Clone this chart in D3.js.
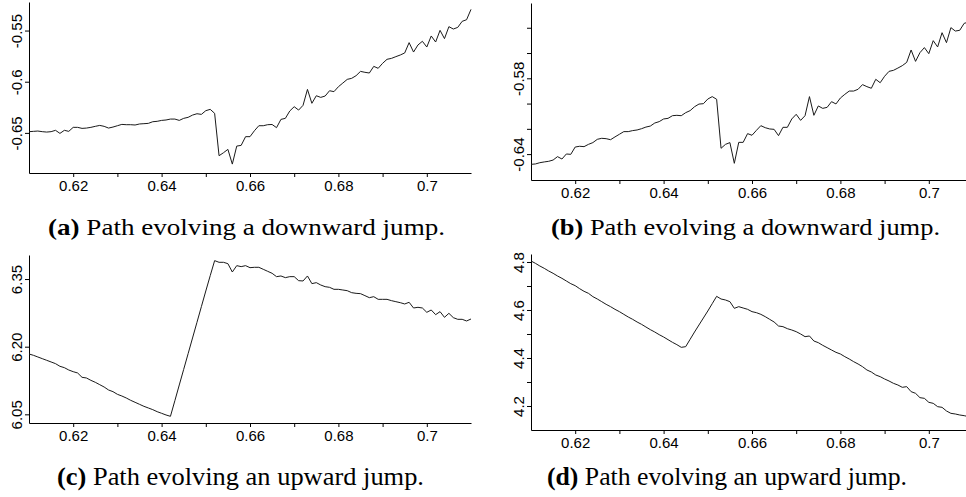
<!DOCTYPE html>
<html>
<head>
<meta charset="utf-8">
<script src="https://cdn.jsdelivr.net/npm/d3@7"></script>
<style>
  body { margin: 0; background: #fff; }
  svg { display: block; }
  .tick text { font-family: "Liberation Sans", Arial, sans-serif; font-size: 15px; fill: #000; }
  .caption { font-family: "Liberation Serif", "Times New Roman", serif; fill: #000; }
</style>
</head>
<body>
<div id="chart"></div>
<script>
// shared x grid (time)
var xValues = [0.610,0.611,0.612,0.613,0.614,0.615,0.616,0.617,0.618,0.619,
  0.620,0.621,0.622,0.623,0.624,0.625,0.626,0.627,0.628,0.629,
  0.630,0.631,0.632,0.633,0.634,0.635,0.636,0.637,0.638,0.639,
  0.640,0.641,0.642,0.643,0.644,0.645,0.646,0.647,0.648,0.649,
  0.650,0.651,0.652,0.653,0.654,0.655,0.656,0.657,0.658,0.659,
  0.660,0.661,0.662,0.663,0.664,0.665,0.666,0.667,0.668,0.669,
  0.670,0.671,0.672,0.673,0.674,0.675,0.676,0.677,0.678,0.679,
  0.680,0.681,0.682,0.683,0.684,0.685,0.686,0.687,0.688,0.689,
  0.690,0.691,0.692,0.693,0.694,0.695,0.696,0.697,0.698,0.699,
  0.700,0.701,0.702,0.703,0.704,0.705,0.706,0.707,0.708,0.709,
  0.710];

// (a) downward jump
var pathA = [-0.6488,-0.6485,-0.6482,-0.6488,-0.6492,-0.6488,-0.6475,-0.6505,-0.6475,-0.6485,
  -0.6446,-0.6446,-0.6456,-0.6453,-0.6446,-0.6436,-0.6427,-0.6436,-0.6453,-0.6443,
  -0.6430,-0.6417,-0.6420,-0.6420,-0.6423,-0.6413,-0.6410,-0.6407,-0.6391,-0.6387,
  -0.6378,-0.6374,-0.6365,-0.6365,-0.6378,-0.6358,-0.6348,-0.6326,-0.6313,-0.6319,
  -0.6283,-0.6270,-0.6309,-0.6723,-0.6694,-0.6661,-0.6805,-0.6629,-0.6622,-0.6537,
  -0.6537,-0.6479,-0.6430,-0.6430,-0.6420,-0.6418,-0.6449,-0.6368,-0.6358,-0.6286,
  -0.6244,-0.6277,-0.6231,-0.6075,-0.6211,-0.6137,-0.6153,-0.6140,-0.6088,-0.6097,
  -0.6049,-0.6013,-0.5977,-0.5967,-0.5941,-0.5899,-0.5908,-0.5915,-0.5850,-0.5869,
  -0.5820,-0.5781,-0.5772,-0.5755,-0.5739,-0.5719,-0.5618,-0.5710,-0.5641,-0.5605,
  -0.5661,-0.5553,-0.5612,-0.5498,-0.5579,-0.5462,-0.5485,-0.5469,-0.5410,-0.5394,
  -0.5293];

// (b) downward jump
var pathB = [-0.6481,-0.6478,-0.6468,-0.6462,-0.6457,-0.6447,-0.6420,-0.6439,-0.6399,-0.6402,
  -0.6344,-0.6338,-0.6341,-0.6323,-0.6309,-0.6283,-0.6275,-0.6278,-0.6286,-0.6264,
  -0.6243,-0.6222,-0.6222,-0.6214,-0.6209,-0.6199,-0.6186,-0.6178,-0.6154,-0.6143,
  -0.6122,-0.6117,-0.6096,-0.6093,-0.6096,-0.6072,-0.6056,-0.6025,-0.6004,-0.6001,
  -0.5964,-0.5945,-0.5966,-0.6354,-0.6323,-0.6309,-0.6473,-0.6307,-0.6307,-0.6238,
  -0.6251,-0.6212,-0.6175,-0.6191,-0.6201,-0.6204,-0.6254,-0.6188,-0.6188,-0.6122,
  -0.6085,-0.6133,-0.6096,-0.5945,-0.6093,-0.6019,-0.6038,-0.6030,-0.5985,-0.6003,
  -0.5956,-0.5927,-0.5901,-0.5901,-0.5887,-0.5850,-0.5866,-0.5879,-0.5808,-0.5835,
  -0.5784,-0.5745,-0.5737,-0.5719,-0.5700,-0.5674,-0.5576,-0.5666,-0.5597,-0.5557,
  -0.5605,-0.5502,-0.5552,-0.5439,-0.5518,-0.5399,-0.5426,-0.5420,-0.5365,-0.5355,
  -0.5300];

// (c) upward jump
var pathC = [6.1838,6.1809,6.1772,6.1735,6.1698,6.1661,6.1624,6.1565,6.1535,6.1483,
  6.1446,6.1417,6.1321,6.1306,6.1254,6.1210,6.1158,6.1106,6.1040,6.1003,
  6.0944,6.0907,6.0863,6.0811,6.0767,6.0722,6.0678,6.0641,6.0604,6.0559,
  6.0523,6.0486,6.0456,6.0803,6.1151,6.1498,6.1845,6.2193,6.2540,6.2888,
  6.3235,6.3575,6.3908,6.3871,6.3871,6.3841,6.3656,6.3797,6.3775,6.3797,
  6.3752,6.3760,6.3760,6.3716,6.3671,6.3627,6.3553,6.3568,6.3531,6.3553,
  6.3553,6.3464,6.3457,6.3568,6.3398,6.3420,6.3368,6.3331,6.3316,6.3272,
  6.3272,6.3257,6.3242,6.3198,6.3183,6.3176,6.3132,6.3087,6.3109,6.3050,
  6.3050,6.3050,6.3021,6.2998,6.2976,6.2947,6.2984,6.2858,6.2873,6.2858,
  6.2762,6.2814,6.2710,6.2777,6.2651,6.2740,6.2644,6.2607,6.2607,6.2570,
  6.2614];

// (d) upward jump
var pathD = [4.8042,4.7944,4.7833,4.7736,4.7625,4.7528,4.7417,4.7319,4.7208,4.7097,
  4.7014,4.6889,4.6778,4.6694,4.6556,4.6458,4.6347,4.6236,4.6139,4.6028,
  4.5931,4.5819,4.5708,4.5611,4.5500,4.5403,4.5292,4.5181,4.5083,4.4972,
  4.4875,4.4764,4.4653,4.4556,4.4444,4.4472,4.4778,4.5083,4.5375,4.5667,
  4.5958,4.6264,4.6569,4.6458,4.6417,4.6347,4.6069,4.6139,4.6083,4.6028,
  4.5931,4.5889,4.5819,4.5722,4.5611,4.5500,4.5333,4.5306,4.5222,4.5167,
  4.5097,4.5000,4.4889,4.4917,4.4708,4.4639,4.4528,4.4431,4.4333,4.4236,
  4.4167,4.4056,4.3958,4.3847,4.3750,4.3639,4.3500,4.3417,4.3292,4.3222,
  4.3125,4.3042,4.2944,4.2875,4.2778,4.2806,4.2597,4.2528,4.2347,4.2319,
  4.2153,4.2111,4.1972,4.1944,4.1792,4.1694,4.1667,4.1625,4.1597,4.1556,
  4.1486];

// ticks
var xTicks = [0.62,0.63,0.64,0.65,0.66,0.67,0.68,0.69,0.70];
var xTickLabels = ["0.62","","0.64","","0.66","","0.68","","0.7"];
var yTicksA = [-0.65,-0.6,-0.55];
var yTickLabelsA = ["-0.65","-0.6","-0.55"];
var yTicksB = [-0.64,-0.62,-0.60,-0.58,-0.56,-0.54];
var yTickLabelsB = ["-0.64","","","-0.58","",""];
var yTicksC = [6.05,6.20,6.35];
var yTickLabelsC = ["6.05","6.20","6.35"];
var yTicksD = [4.2,4.3,4.4,4.5,4.6,4.7,4.8];
var yTickLabelsD = ["4.2","","4.4","","4.6","","4.8"];

var captions = [
  ["(a)", " Path evolving a downward jump."],
  ["(b)", " Path evolving a downward jump."],
  ["(c)", " Path evolving an upward jump."],
  ["(d)", " Path evolving an upward jump."]
];

var svgWidth = 966, svgHeight = 497;

var svg = d3.select("#chart").append("svg")
  .attr("width", svgWidth)
  .attr("height", svgHeight);

// layout of each small panel (pixels)
var panels = [
  {y: pathA, yDomain: [-0.6892, -0.5221], yt: yTicksA, yl: yTickLabelsA,
   left: 29, right: 471, top: 2, bottom: 173,
   cap: captions[0], capX: 48, capY: 235, capW: 397, capSize: 24},
  {y: pathB, yDomain: [-0.6605, -0.5204], yt: yTicksB, yl: yTickLabelsB,
   left: 531, right: 973, top: 3, bottom: 180,
   cap: captions[1], capX: 551, capY: 235, capW: 389, capSize: 24},
  {y: pathC, yDomain: [6.0308, 6.4033], yt: yTicksC, yl: yTickLabelsC,
   left: 29, right: 471, top: 255, bottom: 423,
   cap: captions[2], capX: 57, capY: 485, capW: 367, capSize: 26},
  {y: pathD, yDomain: [4.10, 4.8333], yt: yTicksD, yl: yTickLabelsD,
   left: 531, right: 973, top: 254, bottom: 430,
   cap: captions[3], capX: 547, capY: 485, capW: 360, capSize: 26}
];

panels.forEach(function(p) {
  var xScale = d3.scaleLinear().domain([0.61, 0.71]).range([p.left, p.right]);
  var yScale = d3.scaleLinear().domain(p.yDomain).range([p.bottom, p.top]);

  var g = svg.append("g");

  // x axis
  var bottomAxis = d3.axisBottom(xScale)
    .tickValues(xTicks)
    .tickFormat(function(d, i) { return xTickLabels[i]; })
    .tickSize(4)
    .tickSizeOuter(0)
    .tickPadding(3);

  g.append("g")
    .attr("transform", `translate(0, ${p.bottom})`)
    .call(bottomAxis);

  // y axis, labels turned
  var leftAxis = d3.axisLeft(yScale)
    .tickValues(p.yt)
    .tickFormat(function(d, i) { return p.yl[i]; })
    .tickSize(4)
    .tickSizeOuter(0);

  var yG = g.append("g")
    .attr("transform", `translate(${p.left}, 0)`)
    .call(leftAxis);

  yG.selectAll(".tick text")
    .attr("transform", "rotate(-90)")
    .attr("x", 0)
    .attr("y", -7)
    .attr("dy", 0)
    .attr("text-anchor", "middle");

  g.selectAll(".domain").attr("stroke", "#000");
  g.selectAll(".tick line").attr("stroke", "#000");

  // the path
  var line = d3.line()
    .x(function(d, i) { return xScale(xValues[i]); })
    .y(function(d) { return yScale(d); });

  g.append("path")
    .datum(p.y)
    .attr("fill", "none")
    .attr("stroke", "#1a1a1a")
    .attr("stroke-width", 1)
    .attr("d", line);

  // caption
  var cap = svg.append("text")
    .attr("class", "caption")
    .attr("x", p.capX)
    .attr("y", p.capY)
    .style("font-size", p.capSize + "px")
    .attr("textLength", p.capW)
    .attr("lengthAdjust", "spacingAndGlyphs");
  cap.append("tspan").style("font-weight", "bold").text(p.cap[0]);
  cap.append("tspan").text(p.cap[1]);
});
</script>
</body>
</html>
